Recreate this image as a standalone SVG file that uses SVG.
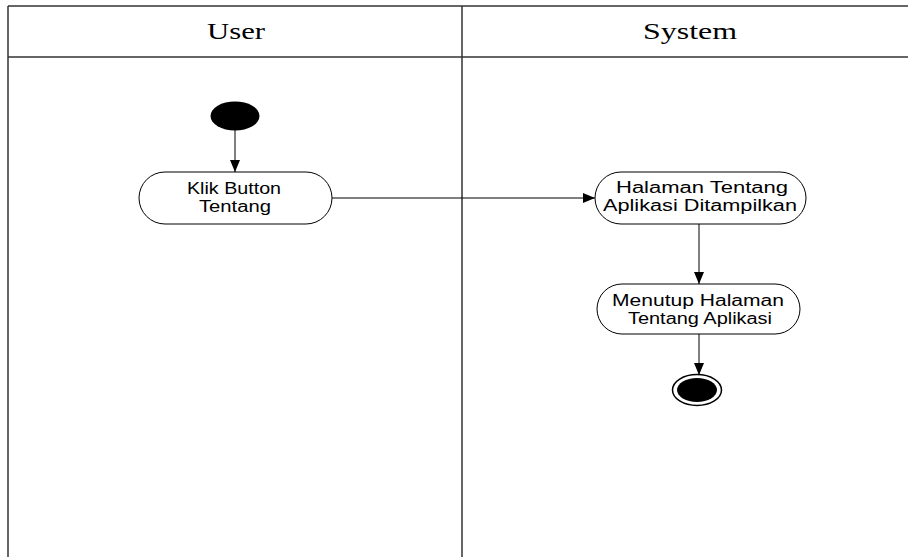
<svg xmlns="http://www.w3.org/2000/svg" width="908" height="557" viewBox="0 0 908 557">
  <style>
    .lane { fill: none; stroke: #333; stroke-width: 1.5; }
    .head { font-family: "Liberation Serif", serif; font-size: 23px; fill: #000; text-anchor: middle; }
    .act { fill: #fff; stroke: #000; stroke-width: 1; }
    .lbl { font-family: "Liberation Sans", Arial, sans-serif; font-size: 16px; fill: #000; text-anchor: middle; }
    .edge { fill: none; stroke: #000; stroke-width: 1; marker-end: url(#arrow); }
  </style>
  <defs>
    <marker id="arrow" markerWidth="12" markerHeight="10" refX="12" refY="5" orient="auto" markerUnits="userSpaceOnUse">
      <path d="M0,0 L12,5 L0,10 Z" fill="#000"/>
    </marker>
  </defs>
  <rect width="908" height="557" fill="#fff"/>

  <!-- swimlanes -->
  <g id="lanes">
    <line class="lane" x1="8" y1="6" x2="910" y2="6"/>
    <line class="lane" x1="8" y1="57" x2="910" y2="57"/>
    <line class="lane" x1="8" y1="6" x2="8" y2="557"/>
    <line class="lane" x1="462" y1="6" x2="462" y2="557"/>
    <text class="head" x="236" y="39" textLength="58" lengthAdjust="spacingAndGlyphs">User</text>
    <text class="head" x="690" y="39" textLength="94" lengthAdjust="spacingAndGlyphs">System</text>
  </g>

  <!-- connectors -->
  <g id="connectors">
    <line class="edge" x1="235" y1="130" x2="235" y2="172"/>
    <line class="edge" x1="332" y1="198" x2="595" y2="198"/>
    <line class="edge" x1="699" y1="224" x2="699" y2="284"/>
    <line class="edge" x1="699" y1="334" x2="699" y2="375"/>
  </g>

  <g id="start">
    <ellipse cx="235" cy="116" rx="24.5" ry="14.5" fill="#000"/>
  </g>

  <g id="klik-button">
    <rect class="act" x="139" y="172" width="193" height="52" rx="26" ry="26"/>
    <text class="lbl" x="234" y="194" textLength="94" lengthAdjust="spacingAndGlyphs">Klik Button</text>
    <text class="lbl" x="235" y="212" textLength="72" lengthAdjust="spacingAndGlyphs">Tentang</text>
  </g>

  <g id="halaman-ditampilkan">
    <rect class="act" x="595" y="172" width="211" height="52" rx="26" ry="26"/>
    <text class="lbl" x="702" y="193" textLength="172" lengthAdjust="spacingAndGlyphs">Halaman Tentang</text>
    <text class="lbl" x="700" y="211" textLength="194" lengthAdjust="spacingAndGlyphs">Aplikasi Ditampilkan</text>
  </g>

  <g id="menutup-halaman">
    <rect class="act" x="597" y="284" width="203" height="50" rx="25" ry="25"/>
    <text class="lbl" x="698" y="306" textLength="172" lengthAdjust="spacingAndGlyphs">Menutup Halaman</text>
    <text class="lbl" x="700" y="324" textLength="144" lengthAdjust="spacingAndGlyphs">Tentang Aplikasi</text>
  </g>

  <g id="end">
    <ellipse cx="697" cy="390" rx="24.5" ry="15.5" fill="#fff" stroke="#000" stroke-width="1.5"/>
    <ellipse cx="697" cy="390" rx="20" ry="12" fill="#000"/>
  </g>
</svg>
